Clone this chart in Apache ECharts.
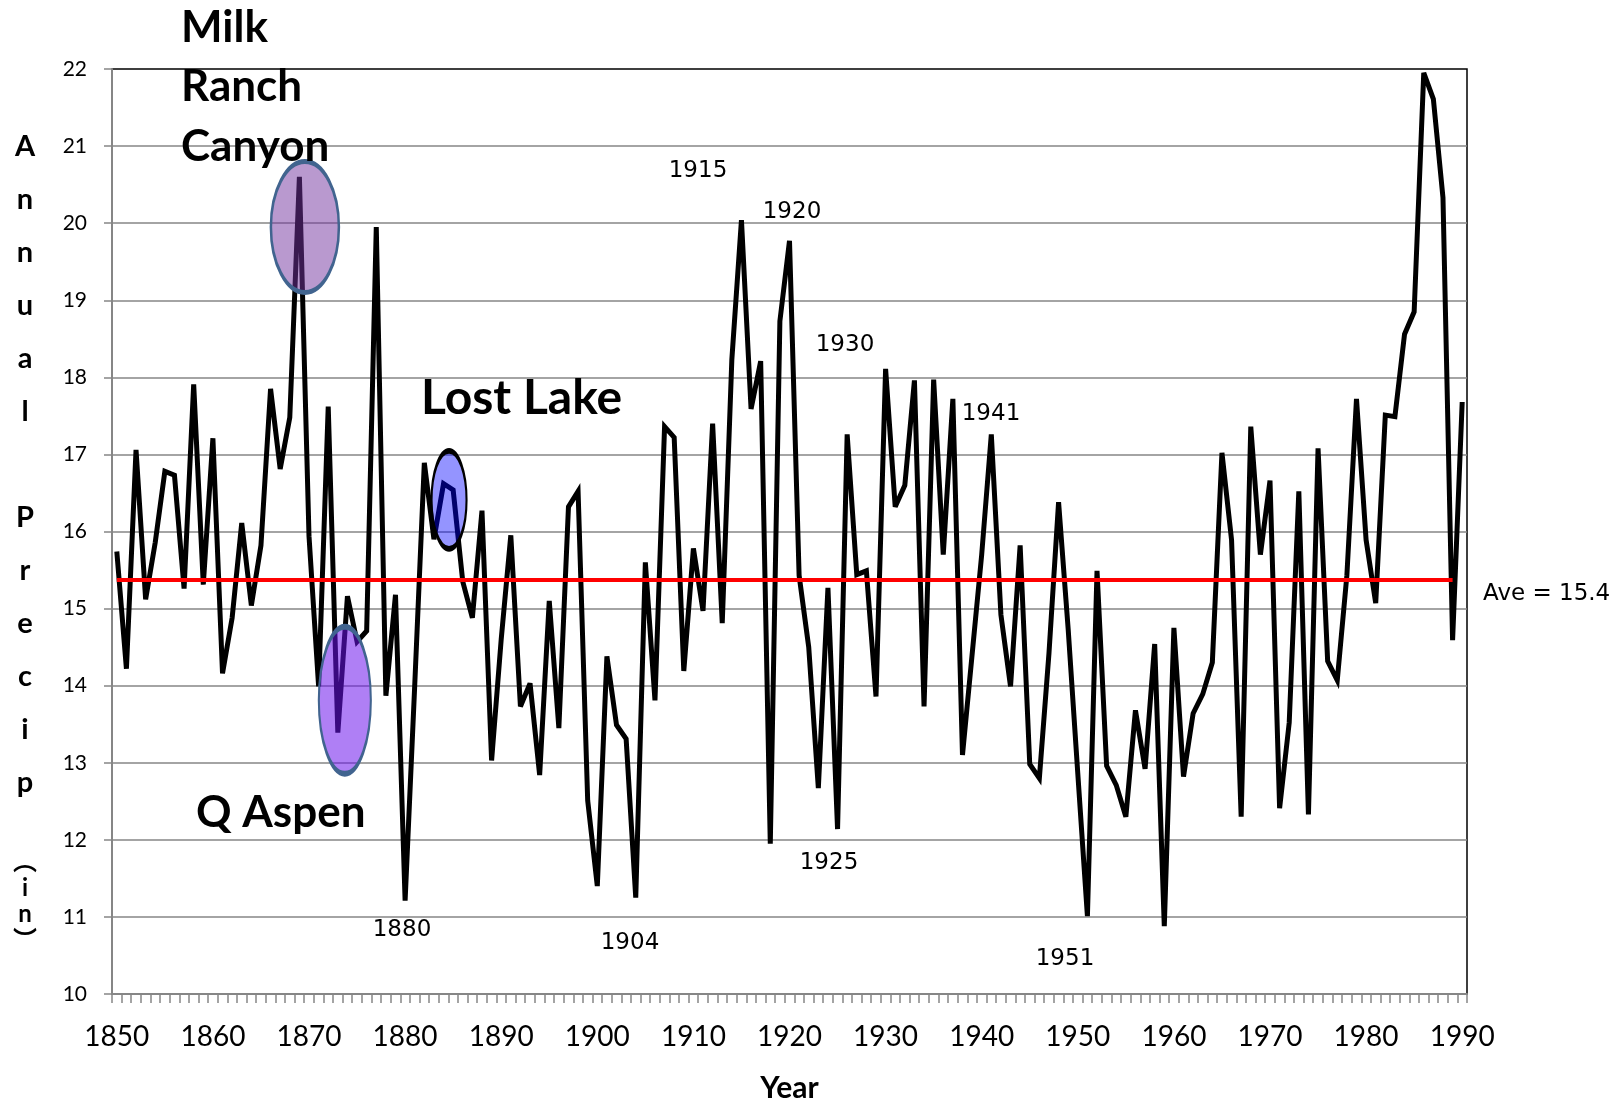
<!DOCTYPE html>
<html><head><meta charset="utf-8">
<script src="https://cdn.jsdelivr.net/npm/echarts@6/dist/echarts.min.js"></script>
<style>html,body{margin:0;padding:0;background:#fff}#c{width:1612px;height:1104px}</style>
</head><body><div id="c"></div>
<script>
// ---- data ----
const firstYear = 1850, lastYear = 1990;
const years = [];
for (let y = firstYear; y <= lastYear; y++) years.push(String(y));
const precip = [
  15.74, 14.22, 17.06, 15.12, 15.86, 16.78, 16.73, 15.26, 17.91, 15.31,
  17.21, 14.16, 14.88, 16.11, 15.04, 15.82, 17.85, 16.81, 17.48, 20.60,
  15.94, 13.99, 17.62, 13.39, 15.16, 14.57, 14.71, 19.95, 13.87, 15.18,
  11.21, 14.00, 16.89, 15.90, 16.62, 16.54, 15.35, 14.88, 16.27, 13.03,
  14.60, 15.95, 13.73, 14.03, 12.84, 15.10, 13.45, 16.32, 16.52, 12.51,
  11.40, 14.38, 13.49, 13.31, 11.25, 15.60, 13.81, 17.36, 17.22, 14.19,
  15.78, 14.97, 17.40, 14.81, 18.23, 20.04, 17.59, 18.21, 11.95, 18.73,
  19.77, 15.43, 14.50, 12.67, 15.27, 12.14, 17.26, 15.44, 15.49, 13.86,
  18.11, 16.32, 16.60, 17.96, 13.73, 17.97, 15.70, 17.72, 13.10, 14.40,
  15.70, 17.26, 14.92, 13.99, 15.82, 12.98, 12.80, 14.42, 16.38, 14.73,
  12.86, 11.01, 15.49, 12.96, 12.71, 12.30, 13.68, 12.92, 14.54, 10.88,
  14.75, 12.82, 13.64, 13.89, 14.30, 17.02, 15.89, 12.30, 17.36, 15.70,
  16.66, 12.41, 13.52, 16.52, 12.33, 17.08, 14.32, 14.07, 15.43, 17.72,
  15.89, 15.07, 17.51, 17.49, 18.56, 18.85, 21.95, 21.61, 20.33, 14.59,
  17.68
];
const average = 15.38;
const averageLabel = 'Ave = 15.4';
const averageEndYear = '1989';
const yMin = 10, yMax = 22, yInterval = 1;
const siteNames = ['Milk\nRanch\nCanyon', 'Q Aspen', 'Lost Lake'];
const ellipseYears = ['1869', '1873', '1884'];
const ellipseValues = [19.95, 13.81, 16.41];
const noteYears = ['1880', '1904', '1915', '1920', '1925', '1930', '1941', '1951'];
const yTitleMain = ['A','n','n','u','a','l','','P','r','e','c','i','p'];
const yTitleUnit = ['\uFE35','i','n','\uFE36'];

// ---- styles ----
const ellipsePath = 'path://M50,0C77.61,0,100,22.39,100,50C100,77.61,77.61,100,50,100C22.39,100,0,77.61,0,50C0,22.39,22.39,0,50,0Z';
const ellipseStyles = [
  {size: [68, 131], offset: [5.5, 0], color: 'rgba(116,52,160,0.5)', border: '#41648F'},
  {size: [52, 147], offset: [7, 0], color: 'rgba(107,18,237,0.54)', border: '#41648F'},
  {size: [35, 98], offset: [5.5, 0], color: 'rgba(0,0,255,0.42)', border: '#000000'}
];
const notePos = [[402,930],[630,943],[698,171],[792,212],[829,863],[845,345],[991,414],[1065,959]];

const chart = echarts.init(document.getElementById('c'), null, {renderer: 'canvas'});
const gray = '#868686';

const graphics = [];
noteYears.forEach((t, i) => {
  graphics.push({type: 'text', silent: true, z: 10, style: {
    text: t, x: notePos[i][0], y: notePos[i][1], textAlign: 'center', textVerticalAlign: 'middle',
    font: '23px "DejaVu Sans"', fill: '#000'}});
});
graphics.push({type: 'text', silent: true, z: 10, style: {
  text: averageLabel, x: 1483, y: 594, textAlign: 'left', textVerticalAlign: 'middle',
  font: '23px "DejaVu Sans"', fill: '#000'}});
const siteLines = siteNames[0].split('\n');
const siteY = [28, 87, 147];
siteLines.forEach((t, i) => {
  graphics.push({type: 'text', silent: true, z: 10, style: {
    text: t, x: 181, y: siteY[i], textAlign: 'left', textVerticalAlign: 'middle',
    font: 'bold 44px Lato', fill: '#000'}});
});
graphics.push({type: 'text', silent: true, z: 10, style: {
  text: siteNames[1], x: 196, y: 813, textAlign: 'left', textVerticalAlign: 'middle',
  font: 'bold 44px Lato', fill: '#000'}});
graphics.push({type: 'text', silent: true, z: 10, style: {
  text: siteNames[2], x: 421, y: 399, textAlign: 'left', textVerticalAlign: 'middle',
  font: 'bold 48px Lato', fill: '#000'}});
yTitleMain.forEach((t, i) => {
  if (!t) return;
  graphics.push({type: 'text', silent: true, z: 10, style: {
    text: t, x: 25, y: 147 + i * 53, textAlign: 'center', textVerticalAlign: 'middle',
    font: 'bold 29px Lato', fill: '#000'}});
});
yTitleUnit.forEach((t, i) => {
  graphics.push({type: 'text', silent: true, z: 10, style: {
    text: t, x: 25, y: 862 + i * 26, textAlign: 'center', textVerticalAlign: 'middle',
    font: 'bold 24px Lato, "Noto Sans CJK SC"', fill: '#000'}});
});

chart.setOption({
  animation: false,
  backgroundColor: '#ffffff',
  grid: {left: 112, right: 145, top: 69, bottom: 110, containLabel: false, outerBoundsMode: 'none',
         show: true, borderColor: '#000', borderWidth: 1.5, backgroundColor: 'transparent'},
  xAxis: {
    type: 'category', data: years, boundaryGap: true,
    name: 'Year', nameLocation: 'middle', nameGap: 79,
    nameTextStyle: {fontFamily: 'Lato', fontWeight: 'bold', fontSize: 30, color: '#000'},
    axisLine: {show: true, lineStyle: {color: gray, width: 2}},
    axisTick: {show: true, interval: 0, length: 9, alignWithLabel: false, lineStyle: {color: gray, width: 1.5}},
    axisLabel: {interval: 9, fontFamily: 'Lato', fontSize: 28, color: '#000', margin: 29},
    splitLine: {show: false}
  },
  yAxis: {
    type: 'value', min: yMin, max: yMax, interval: yInterval,
    axisLine: {show: true, lineStyle: {color: gray, width: 2}},
    axisTick: {show: true, length: 8, lineStyle: {color: gray, width: 1.5}},
    axisLabel: {fontFamily: 'Lato', fontSize: 21, color: '#000', margin: 25},
    splitLine: {show: true, showMinLine: false, showMaxLine: false, lineStyle: {color: gray, width: 1.5}}
  },
  series: [
    {
      type: 'line', data: precip, symbol: 'none', smooth: false, z: 2, silent: true,
      lineStyle: {color: '#000', width: 5, join: 'miter', miterLimit: 4},
      markLine: {
        silent: true, symbol: ['none', 'none'], animation: false,
        label: {show: false},
        lineStyle: {color: '#FF0000', width: 4, type: 'solid'},
        emphasis: {disabled: true},
        data: [[{coord: [years[0], average]}, {coord: [averageEndYear, average]}]]
      }
    },
    {
      type: 'scatter', z: 4, silent: true,
      emphasis: {disabled: true},
      data: ellipseYears.map((yr, i) => ({
        value: [yr, ellipseValues[i]],
        symbol: ellipsePath,
        symbolKeepAspect: false,
        symbolSize: ellipseStyles[i].size,
        symbolOffset: ellipseStyles[i].offset,
        itemStyle: {color: ellipseStyles[i].color, borderColor: ellipseStyles[i].border, borderWidth: 3.5, opacity: 1}
      }))
    }
  ],
  graphic: graphics
});
</script>
</body></html>
